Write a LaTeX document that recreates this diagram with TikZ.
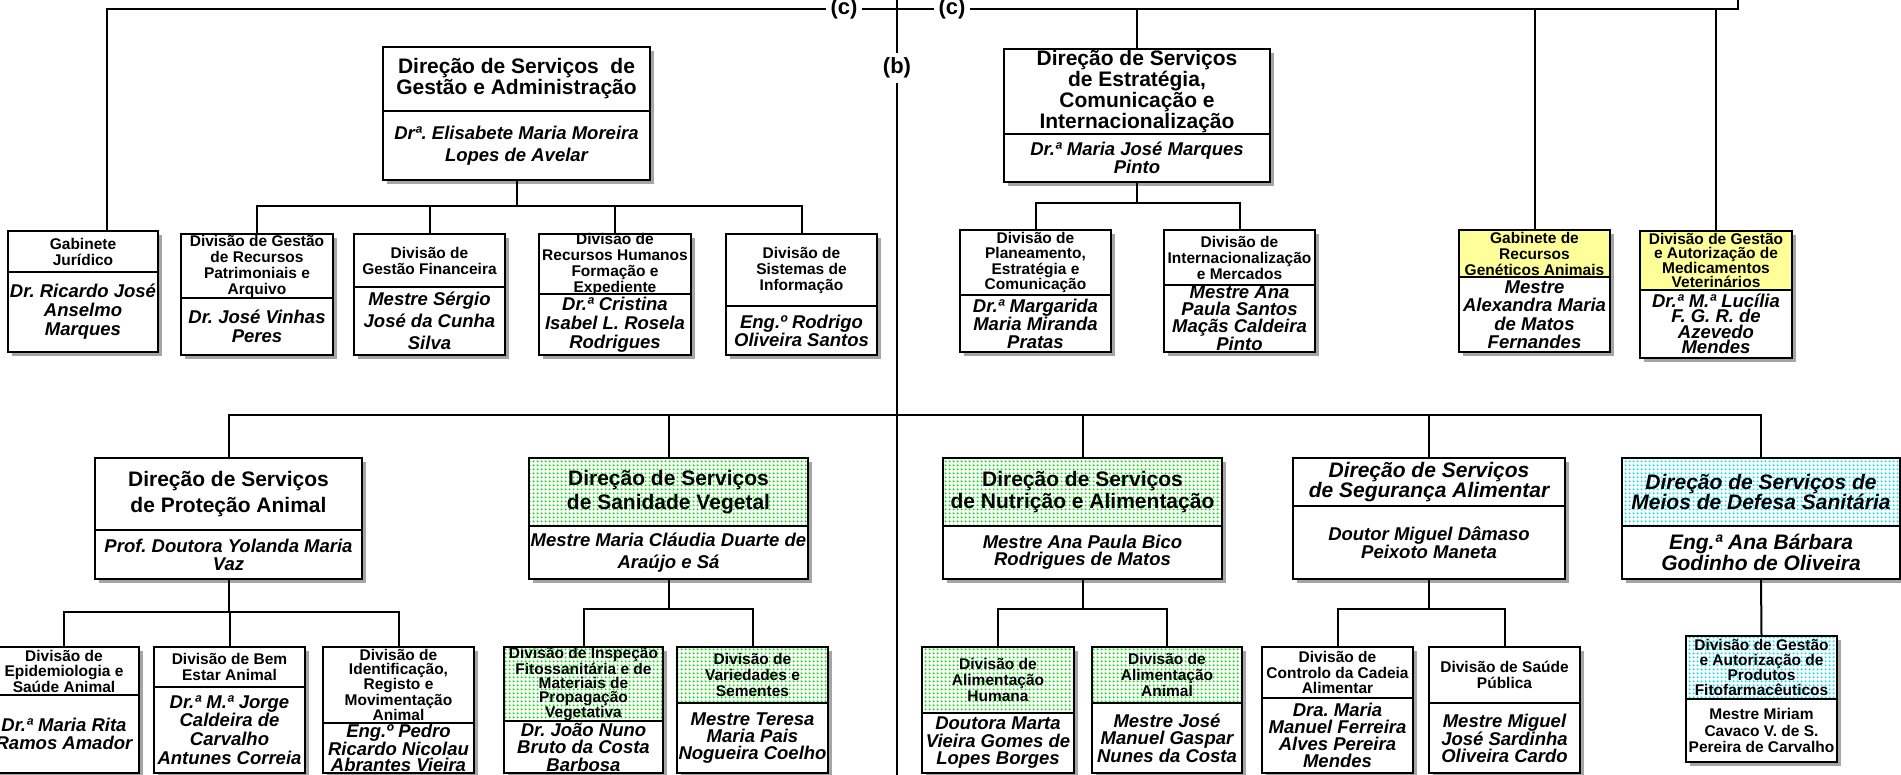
\documentclass[tikz,border=0pt]{standalone}
\usepackage{fontspec}
\setmainfont{Liberation Sans}
\usetikzlibrary{patterns,backgrounds}
\frenchspacing

\definecolor{shadowgray}{RGB}{165,165,165}
\definecolor{paleyellow}{RGB}{255,255,153}
\definecolor{dotgreen}{RGB}{0,228,0}
\definecolor{dotcyan}{RGB}{0,228,250}

% small dot raster for the coloured headers
\pgfdeclarepatternformonly{meshdots}{\pgfqpoint{0pt}{0pt}}{\pgfqpoint{4pt}{4pt}}{\pgfqpoint{4pt}{4pt}}{%
    \pgfpathcircle{\pgfqpoint{2pt}{2pt}}{1.35pt}%
    \pgfusepath{fill}%
}

\tikzset{
    unitbox/.style={draw, line width=1.2pt, fill=white, inner xsep=0pt, inner ysep=-4pt,
        outer sep=0pt, align=center, anchor=north west},
    divhead/.style={unitbox, font=\bfseries\fontsize{15.5}{#1}\selectfont},
    divhead/.default=16,
    dirhead/.style={unitbox, font=\bfseries\fontsize{21}{#1}\selectfont},
    dirhead/.default=21,
    dirslant/.style={unitbox, font=\bfseries\itshape\fontsize{21}{18.5}\selectfont},
    namebody/.style={unitbox, font=\bfseries\itshape\fontsize{18.5}{#1}\selectfont},
    namebody/.default=19,
    bigname/.style={unitbox, font=\bfseries\itshape\fontsize{21}{18.5}\selectfont},
    plainbody/.style={unitbox, font=\bfseries\fontsize{15.5}{16.3}\selectfont},
    yellowfill/.style={fill=paleyellow},
    greenfill/.style={preaction={fill=white}, pattern=meshdots, pattern color=dotgreen},
    cyanfill/.style={preaction={fill=white}, pattern=meshdots, pattern color=dotcyan},
    link/.style={line width=2pt},
    tag/.style={font=\bfseries\fontsize{22}{22}\selectfont, inner xsep=4pt, inner ysep=5pt},
}

% name, head style, body style, top left, width, head height, body height, head text, body text
\newcommand{\orgunit}[9]{%
    \node[#2, minimum width=#5, minimum height=#6] (#1) at (#4) {#8};
    \node[#3, minimum width=#5, minimum height=#7] (#1-b) at (#1.south west) {#9};
    \begin{scope}[on background layer]
        \fill[shadowgray] ([shift={(4,4)}]#1.north west) rectangle ([shift={(4,4)}]#1-b.south east);
    \end{scope}
}

\begin{document}
\begin{tikzpicture}[x=1pt, y=-1pt]

    \useasboundingbox (0,0) rectangle (1901,775);

    % Upper half
    \orgunit{gabj}{divhead}{namebody}{8,231}{150}{41}{80}{Gabinete\\Jurídico}{Dr. Ricardo José\\Anselmo\\Marques}
    \orgunit{dsga}{dirhead}{namebody=22}{383,47}{267}{64}{69}{Direção de Serviços\ \ de\\Gestão e Administração}{Drª. Elisabete Maria Moreira\\Lopes de Avelar}
    \orgunit{dgrp}{divhead}{namebody}{181,234}{152}{64}{57}{Divisão de Gestão\\de Recursos\\Patrimoniais e\\Arquivo}{Dr. José Vinhas\\Peres}
    \orgunit{dgf}{divhead}{namebody=22}{354,234}{151}{53}{68}{Divisão de\\Gestão Financeira}{Mestre Sérgio\\José da Cunha\\Silva}
    \orgunit{drh}{divhead}{namebody}{539,234}{152}{60}{61}{Divisão de\\Recursos Humanos\\Formação e\\Expediente}{Dr.ª Cristina\\Isabel L. Rosela\\Rodrigues}
    \orgunit{dsi}{divhead}{namebody=18}{726,234}{151}{72}{49}{Divisão de\\Sistemas de\\Informação}{Eng.º Rodrigo\\Oliveira Santos}
    \orgunit{dseci}{dirhead}{namebody=18}{1004,49}{266}{85}{48}{Direção de Serviços\\de Estratégia,\\Comunicação e\\Internacionalização}{Dr.ª Maria José Marques\\Pinto}
    \orgunit{dpec}{divhead=15.5}{namebody=18}{960,230}{151}{65}{57}{Divisão de\\Planeamento,\\Estratégia e\\Comunicação}{Dr.ª Margarida\\Maria Miranda\\Pratas}
    \orgunit{dim}{divhead}{namebody=16.7}{1164,230}{151}{55}{67}{Divisão de\\Internacionalização\\e Mercados}{Mestre Ana\\Paula Santos\\Maçãs Caldeira\\Pinto}
    \orgunit{grga}{divhead,yellowfill}{namebody=18.5}{1459,230}{151}{47}{75}{Gabinete de\\Recursos\\Genéticos Animais}{Mestre\\Alexandra Maria\\de Matos\\Fernandes}
    \orgunit{dgamv}{divhead=14.5,yellowfill}{namebody=15.5}{1640,231}{152}{59}{68}{Divisão de Gestão\\e Autorização de\\Medicamentos\\Veterinários}{Dr.ª M.ª Lucília\\F. G. R. de\\Azevedo\\Mendes}

    % Lower half
    \orgunit{dspa}{dirhead=26}{namebody=18}{95,458}{267}{72}{49}{Direção de Serviços\\de Proteção Animal}{Prof. Doutora Yolanda Maria\\Vaz}
    \orgunit{dssv}{dirhead=24.5,greenfill}{namebody=22}{529,458}{279}{68}{53}{Direção de Serviços\\de Sanidade Vegetal}{Mestre Maria Cláudia Duarte de\\Araújo e Sá}
    \orgunit{dsna}{dirhead=21.5,greenfill}{namebody=17.3}{943,458}{279}{68}{53}{Direção de Serviços\\de Nutrição e Alimentação}{Mestre Ana Paula Bico\\Rodrigues de Matos}
    \orgunit{dssa}{dirslant}{namebody=16.7}{1293,458}{272}{48}{73}{Direção de Serviços\\de Segurança Alimentar}{Doutor Miguel Dâmaso\\Peixoto Maneta}
    \orgunit{dsmds}{dirslant,cyanfill}{bigname}{1622,458}{278}{68}{53}{Direção de Serviços de\\Meios de Defesa Sanitária}{Eng.ª Ana Bárbara\\Godinho de Oliveira}

    \orgunit{depi}{divhead=15.5}{namebody=17.3}{-11,647}{150}{48}{78}{Divisão de\\Epidemiologia e\\Saúde Animal}{Dr.ª Maria Rita\\Ramos Amador}
    \orgunit{dbea}{divhead=16.7}{namebody=18.7}{154,647}{151}{40}{86}{Divisão de Bem\\Estar Animal}{Dr.ª M.ª Jorge\\Caldeira de\\Carvalho\\Antunes Correia}
    \orgunit{dirm}{divhead=14}{namebody=16.2}{323,647}{151}{76}{50}{Divisão de\\Identificação,\\Registo e\\Movimentação\\Animal}{Eng.º Pedro\\Ricardo Nicolau\\Abrantes Vieira}
    \orgunit{dipf}{divhead=14,greenfill}{namebody=17.5}{504,647}{159}{74}{52}{Divisão de Inspeção\\Fitossanitária e de\\Materiais de\\Propagação\\Vegetativa}{Dr. João Nuno\\Bruto da Costa\\Barbosa}
    \orgunit{dvs}{divhead,greenfill}{namebody=17}{677,647}{151}{56}{70}{Divisão de\\Variedades e\\Sementes}{Mestre Teresa\\Maria Pais\\Nogueira Coelho}
    \orgunit{dah}{divhead=15.7,greenfill}{namebody=17.5}{922,647}{152}{66}{60}{Divisão de\\Alimentação\\Humana}{Doutora Marta\\Vieira Gomes de\\Lopes Borges}
    \orgunit{daa}{divhead,greenfill}{namebody=17}{1092,647}{150}{56}{70}{Divisão de\\Alimentação\\Animal}{Mestre José\\Manuel Gaspar\\Nunes da Costa}
    \orgunit{dcca}{divhead=15.7}{namebody=17}{1262,647}{151}{51}{75}{Divisão de\\Controlo da Cadeia\\Alimentar}{Dra. Maria\\Manuel Ferreira\\Alves Pereira\\Mendes}
    \orgunit{dsp}{divhead}{namebody=16.7}{1429,647}{151}{56}{70}{Divisão de Saúde\\Pública}{Mestre Miguel\\José Sardinha\\Oliveira Cardo}
    \orgunit{dgapf}{divhead=15.3,cyanfill}{plainbody}{1686,636}{151}{63}{63}{Divisão de Gestão\\e Autorização de\\Produtos\\Fitofarmacêuticos}{Mestre Miriam\\Cavaco V. de S.\\Pereira de Carvalho}

    % Labels on the trunk lines
    \node[tag] (cl) at (844,9) {(c)};
    \node[tag] (cr) at (952,9) {(c)};
    \node[tag] (bl) at (897,68) {(b)};
    \coordinate (btop) at (897,0);
    \coordinate (bbot) at (897,775);
    \coordinate (topexit) at (1738,0);
    \coordinate (bjunc) at (897,415);

    % Top line
    \draw[link] ([xshift=24pt]gabj.north) |- (cl.west);
    \draw[link] (cl.east) -- (cr.west);
    \draw[link] (cr.east) -| (topexit);
    \foreach \kid in {dseci,grga,dgamv}
        \draw[link] (\kid.north) -- (\kid.north |- cr);

    % Vertical trunk
    \draw[link] (btop) -- (bl.north);
    \draw[link] (bl.south) -- (bbot);

    % Divisions of the upper directorates
    \draw[link] (dsga-b.south) -- ++(0,26) coordinate (gajunc);
    \foreach \kid in {dgrp,dgf,drh,dsi}
        \draw[link] (gajunc) -| (\kid.north);
    \draw[link] (dseci-b.south) -- ++(0,21) coordinate (cijunc);
    \foreach \kid in {dpec,dim}
        \draw[link] (cijunc) -| (\kid.north);

    % Lower bar
    \foreach \kid in {dspa,dssv,dsna,dssa,dsmds}
        \draw[link] (bjunc) -| (\kid.north);

    % Divisions of the lower directorates
    \draw[link] (dspa-b.south) -- ++(0,33) coordinate (pajunc);
    \foreach \kid in {depi,dbea,dirm}
        \draw[link] (pajunc) -| (\kid.north);
    \draw[link] (dssv-b.south) -- ++(0,30) coordinate (svjunc);
    \foreach \kid in {dipf,dvs}
        \draw[link] (svjunc) -| (\kid.north);
    \draw[link] (dsna-b.south) -- ++(0,30) coordinate (najunc);
    \foreach \kid in {dah,daa}
        \draw[link] (najunc) -| (\kid.north);
    \draw[link] (dssa-b.south) -- ++(0,30) coordinate (sajunc);
    \foreach \kid in {dcca,dsp}
        \draw[link] (sajunc) -| (\kid.north);
    \draw[link] (dsmds-b.south) -- (dgapf.north);

\end{tikzpicture}
\end{document}
